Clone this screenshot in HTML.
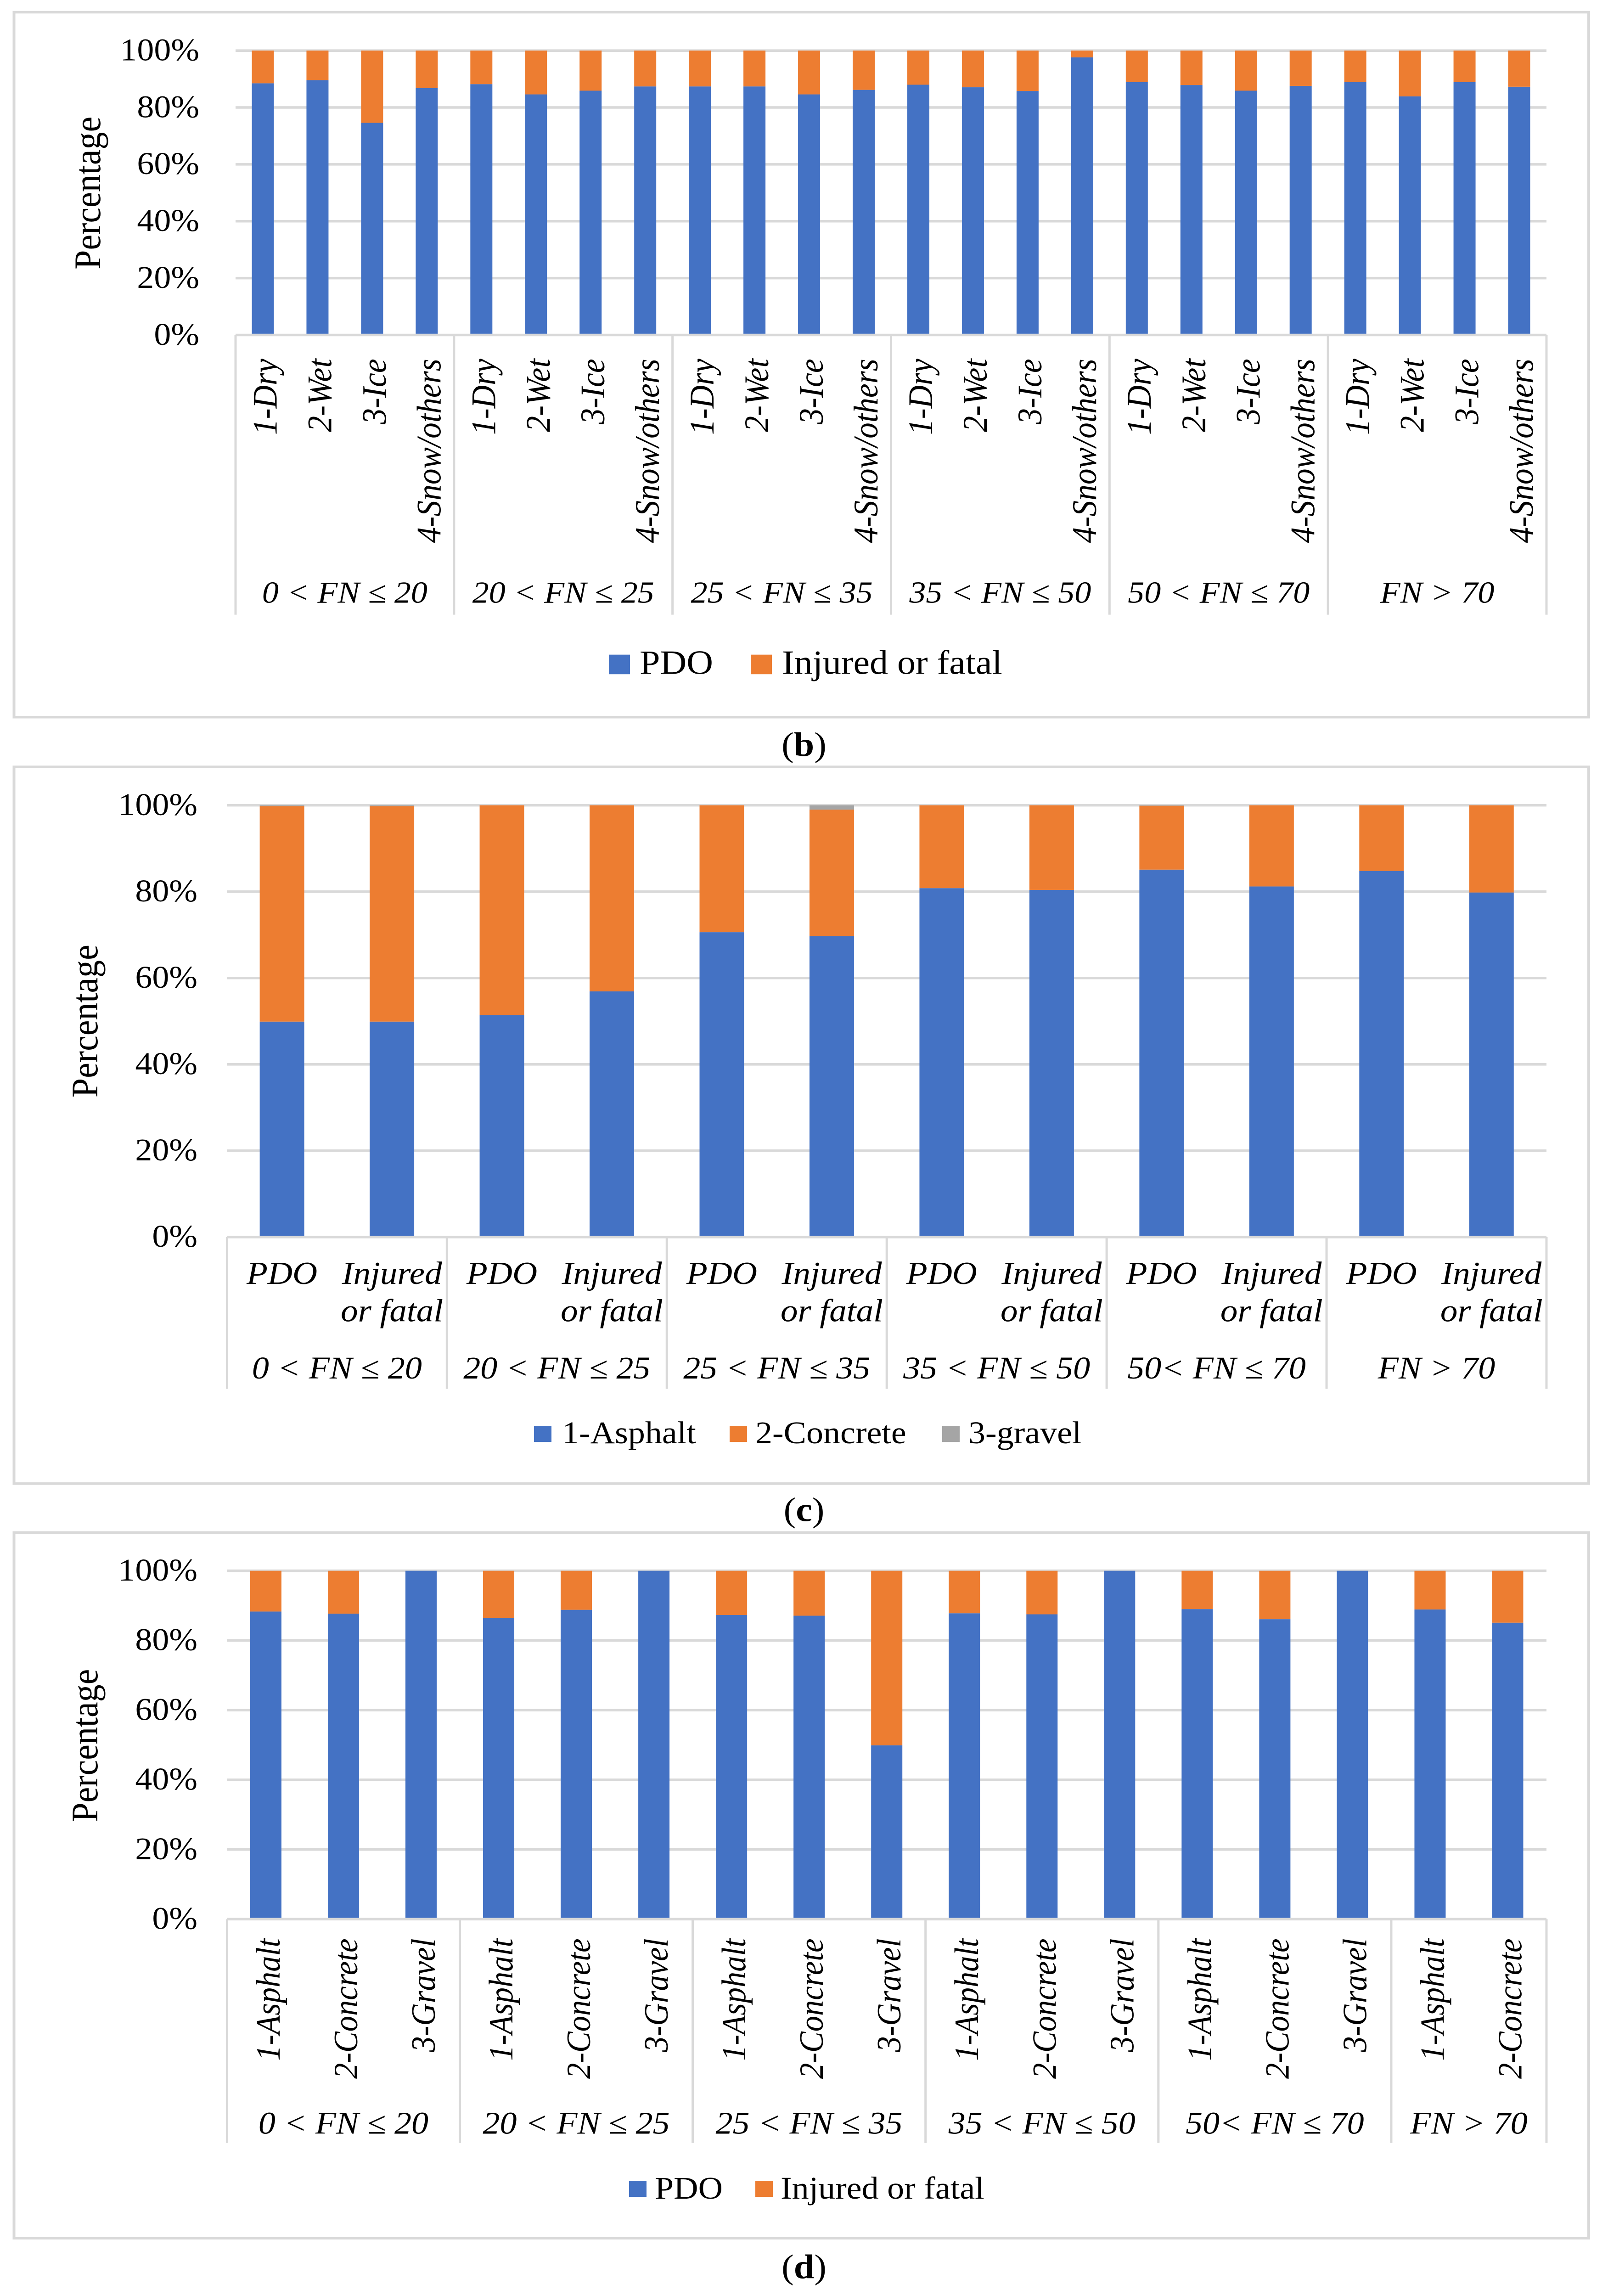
<!DOCTYPE html>
<html lang="en">
<head>
<meta charset="utf-8">
<title>Crash severity percentages by friction number group</title>
<style>
  html, body { margin: 0; padding: 0; background: #ffffff; width: 100%; height: 100%; overflow: hidden; }
  svg { display: block; position: absolute; left: 0; top: 0; width: 100vw; height: 100vh; }
  text { fill: #000000; font-family: "Liberation Serif", serif; }
</style>
</head>
<body>
<svg id="figure" xmlns="http://www.w3.org/2000/svg" viewBox="0 0 3502 5401" preserveAspectRatio="none"></svg>
<script>
const yTickValues = [0, 20, 40, 60, 80, 100];
const yTickLabels = ['0%', '20%', '40%', '60%', '80%', '100%'];

const chartBGroupLabels = ['0 < FN ≤ 20', '20 < FN ≤ 25', '25 < FN ≤ 35', '35 < FN ≤ 50', '50 < FN ≤ 70', 'FN > 70'];
const chartBGroupSizes = [4, 4, 4, 4, 4, 4];
const chartBCategories = [
  '1-Dry', '2-Wet', '3-Ice', '4-Snow/others',
  '1-Dry', '2-Wet', '3-Ice', '4-Snow/others',
  '1-Dry', '2-Wet', '3-Ice', '4-Snow/others',
  '1-Dry', '2-Wet', '3-Ice', '4-Snow/others',
  '1-Dry', '2-Wet', '3-Ice', '4-Snow/others',
  '1-Dry', '2-Wet', '3-Ice', '4-Snow/others'
];
const chartBPdo = [88.5, 89.6, 74.6, 86.8, 88.2, 84.6, 85.9, 87.4, 87.4, 87.4, 84.6, 86.2, 88.0, 87.1, 85.8, 97.6, 88.9, 87.9, 85.9, 87.6, 89.0, 83.9, 88.9, 87.3];
const chartBInjured = [11.5, 10.4, 25.4, 13.2, 11.8, 15.4, 14.1, 12.6, 12.6, 12.6, 15.4, 13.8, 12.0, 12.9, 14.2, 2.4, 11.1, 12.1, 14.1, 12.4, 11.0, 16.1, 11.1, 12.7];

const chartCGroupLabels = ['0 < FN ≤ 20', '20 < FN ≤ 25', '25 < FN ≤ 35', '35 < FN ≤ 50', '50< FN ≤ 70', 'FN > 70'];
const chartCGroupSizes = [2, 2, 2, 2, 2, 2];
const chartCCategories = [
  'PDO', 'Injured|or fatal', 'PDO', 'Injured|or fatal', 'PDO', 'Injured|or fatal',
  'PDO', 'Injured|or fatal', 'PDO', 'Injured|or fatal', 'PDO', 'Injured|or fatal'
];
const chartCAsphalt = [49.9, 49.9, 51.4, 56.9, 70.6, 69.7, 80.8, 80.4, 85.1, 81.2, 84.8, 79.8];
const chartCConcrete = [49.9, 49.9, 48.6, 43.1, 29.4, 29.3, 19.2, 19.6, 14.8, 18.8, 15.2, 20.2];
const chartCGravel = [0.2, 0.2, 0, 0, 0, 1.0, 0, 0, 0.1, 0, 0, 0];

const chartDGroupLabels = ['0 < FN ≤ 20', '20 < FN ≤ 25', '25 < FN ≤ 35', '35 < FN ≤ 50', '50< FN ≤ 70', 'FN > 70'];
const chartDGroupSizes = [3, 3, 3, 3, 3, 2];
const chartDCategories = [
  '1-Asphalt', '2-Concrete', '3-Gravel',
  '1-Asphalt', '2-Concrete', '3-Gravel',
  '1-Asphalt', '2-Concrete', '3-Gravel',
  '1-Asphalt', '2-Concrete', '3-Gravel',
  '1-Asphalt', '2-Concrete', '3-Gravel',
  '1-Asphalt', '2-Concrete'
];
const chartDPdo = [88.3, 87.7, 100, 86.5, 88.8, 100, 87.3, 87.1, 49.9, 87.8, 87.5, 100, 89.0, 86.1, 100, 88.9, 85.1];
const chartDInjured = [11.7, 12.3, 0, 13.5, 11.2, 0, 12.7, 12.9, 50.1, 12.2, 12.5, 0, 11.0, 13.9, 0, 11.1, 14.9];

const BLUE = '#4472C4';
const ORANGE = '#ED7D31';
const GRAY = '#A5A5A5';
const RULE = '#D9D9D9';
const NS = 'http://www.w3.org/2000/svg';
const figure = document.getElementById('figure');

function make(parent, tag, attrs, content) {
  const node = document.createElementNS(NS, tag);
  for (const key in attrs) {
    node.setAttribute(key, attrs[key]);
  }
  if (content !== undefined) {
    node.textContent = content;
  }
  parent.appendChild(node);
  return node;
}

function drawChart(spec) {
  const root = make(figure, 'g', {});
  
  

  const count = spec.categories.length;
  const step = (spec.right - spec.left) / count;
  const xEdge = function (i) { return spec.left + i * step; };
  const xCenter = function (i) { return spec.left + (i + 0.5) * step; };
  const yScale = function (v) { return spec.y0 + (spec.y100 - spec.y0) * v / 100; };

  const frame = make(root, 'rect', {
    x: spec.frame[0], y: spec.frame[1],
    width: spec.frame[2] - spec.frame[0], height: spec.frame[3] - spec.frame[1],
    fill: '#ffffff', stroke: RULE, 'stroke-width': 6
  });
  
  

  yTickValues.forEach(function (value, i) {
    if (value > 0) {
      const grid = make(root, 'line', {
        x1: spec.left, x2: spec.right, y1: yScale(value), y2: yScale(value),
        stroke: RULE, 'stroke-width': 6
      });
      
      
    }
    const tick = make(root, 'text', {
      x: spec.tickRight, y: yScale(value) + 23,
      'text-anchor': 'end', 'font-size': 74
    }, yTickLabels[i]);
    
    
  });

  const title = make(root, 'text', {
    x: 0, y: 0, 'text-anchor': 'middle', 'font-size': 82,
    transform: 'translate(' + spec.titleX + ' ' + spec.titleY + ') rotate(-90)'
  }, 'Percentage');
  
  

  for (let i = 0; i < count; i++) {
    let base = 0;
    spec.series.forEach(function (series) {
      const value = series.values[i];
      const bar = make(root, 'rect', {
        x: xCenter(i) - spec.barWidth / 2,
        y: yScale(base + value),
        width: spec.barWidth,
        height: yScale(base) - yScale(base + value),
        fill: series.color
      });
      
      
      base += value;
    });
  }

  const axis = make(root, 'line', {
    x1: spec.left, x2: spec.right, y1: spec.y0, y2: spec.y0,
    stroke: RULE, 'stroke-width': 6
  });
  
  

  spec.categories.forEach(function (label, i) {
    if (spec.rotated) {
      const cat = make(root, 'text', {
        x: 0, y: 0, 'text-anchor': 'end', 'font-size': spec.catSize, 'font-style': 'italic',
        transform: 'translate(' + (xCenter(i) + 30) + ' ' + spec.catTop + ') rotate(-90)'
      }, label);
      
      
    } else {
      label.split('|').forEach(function (line, n) {
        const cat = make(root, 'text', {
          x: xCenter(i), y: spec.catTop + n * 88.5, 'text-anchor': 'middle',
          'font-size': spec.catSize, 'font-style': 'italic'
        }, line);
        
        
      });
    }
  });

  let start = 0;
  const firstDivider = make(root, 'line', {
    x1: xEdge(0), x2: xEdge(0), y1: spec.y0, y2: spec.dividerEnd,
    stroke: RULE, 'stroke-width': 5
  });
  
  
  spec.groupSizes.forEach(function (size, g) {
    const end = start + size;
    const divider = make(root, 'line', {
      x1: xEdge(end), x2: xEdge(end), y1: spec.y0, y2: spec.dividerEnd,
      stroke: RULE, 'stroke-width': 5
    });
    
    
    const group = make(root, 'text', {
      x: (xEdge(start) + xEdge(end)) / 2, y: spec.groupBaseline,
      'text-anchor': 'middle', 'font-size': spec.groupSize, 'font-style': 'italic'
    }, spec.groupLabels[g]);
    
    
    start = end;
  });

  spec.legend.forEach(function (entry) {
    const swatch = make(root, 'rect', {
      x: entry.sx, y: spec.legendY, width: spec.legendSwatch, height: spec.legendSwatch,
      fill: entry.color
    });
    
    
    const text = make(root, 'text', {
      x: entry.tx, y: spec.legendBaseline, 'font-size': spec.legendSize
    }, entry.label);
    
    
  });

  const caption = make(root, 'text', {
    x: 1751, y: spec.captionBaseline, 'text-anchor': 'middle', 'font-size': 80
  });
  
  
  make(caption, 'tspan', {}, '(');
  make(caption, 'tspan', { 'font-weight': 'bold' }, spec.letter);
  make(caption, 'tspan', {}, ')');
}

drawChart({
  name: 'chart-b-road-condition',
  letter: 'b',
  frame: [30.5, 28.7, 3460, 1687],
  left: 513, right: 3368, y100: 119, y0: 788, barWidth: 48,
  tickRight: 434, titleX: 218, titleY: 454,
  categories: chartBCategories, groupSizes: chartBGroupSizes, groupLabels: chartBGroupLabels,
  rotated: true, catTop: 844, catSize: 75,
  dividerEnd: 1446, groupBaseline: 1418, groupSize: 72,
  series: [
    { key: 'pdo', values: chartBPdo, color: BLUE },
    { key: 'injured-or-fatal', values: chartBInjured, color: ORANGE }
  ],
  legendY: 1540, legendSwatch: 46, legendBaseline: 1585, legendSize: 80,
  legend: [
    { sx: 1326, tx: 1393, color: BLUE, label: 'PDO' },
    { sx: 1635, tx: 1703, color: ORANGE, label: 'Injured or fatal' }
  ],
  captionBaseline: 1778
});

drawChart({
  name: 'chart-c-surface-by-severity',
  letter: 'c',
  frame: [30.5, 1804, 3460, 3490],
  left: 494.4, right: 3368, y100: 1894.3, y0: 2910, barWidth: 97,
  tickRight: 430, titleX: 212, titleY: 2402,
  categories: chartCCategories, groupSizes: chartCGroupSizes, groupLabels: chartCGroupLabels,
  rotated: false, catTop: 3020, catSize: 75,
  dividerEnd: 3267, groupBaseline: 3243, groupSize: 74,
  series: [
    { key: 'asphalt', values: chartCAsphalt, color: BLUE },
    { key: 'concrete', values: chartCConcrete, color: ORANGE },
    { key: 'gravel', values: chartCGravel, color: GRAY }
  ],
  legendY: 3354, legendSwatch: 38, legendBaseline: 3395, legendSize: 74,
  legend: [
    { sx: 1163, tx: 1224, color: BLUE, label: '1-Asphalt' },
    { sx: 1589, tx: 1645, color: ORANGE, label: '2-Concrete' },
    { sx: 2052, tx: 2109, color: GRAY, label: '3-gravel' }
  ],
  captionBaseline: 3578
});

drawChart({
  name: 'chart-d-severity-by-surface',
  letter: 'd',
  frame: [30.5, 3605, 3460, 5265],
  left: 494.4, right: 3368, y100: 3695, y0: 4514.5, barWidth: 68,
  tickRight: 430, titleX: 212, titleY: 4106,
  categories: chartDCategories, groupSizes: chartDGroupSizes, groupLabels: chartDGroupLabels,
  rotated: true, catTop: 4560, catSize: 74,
  dividerEnd: 5041, groupBaseline: 5019, groupSize: 74,
  series: [
    { key: 'pdo', values: chartDPdo, color: BLUE },
    { key: 'injured-or-fatal', values: chartDInjured, color: ORANGE }
  ],
  legendY: 5130, legendSwatch: 38, legendBaseline: 5172, legendSize: 74,
  legend: [
    { sx: 1370, tx: 1426, color: BLUE, label: 'PDO' },
    { sx: 1645, tx: 1700, color: ORANGE, label: 'Injured or fatal' }
  ],
  captionBaseline: 5359
});
</script>
</body>
</html>
